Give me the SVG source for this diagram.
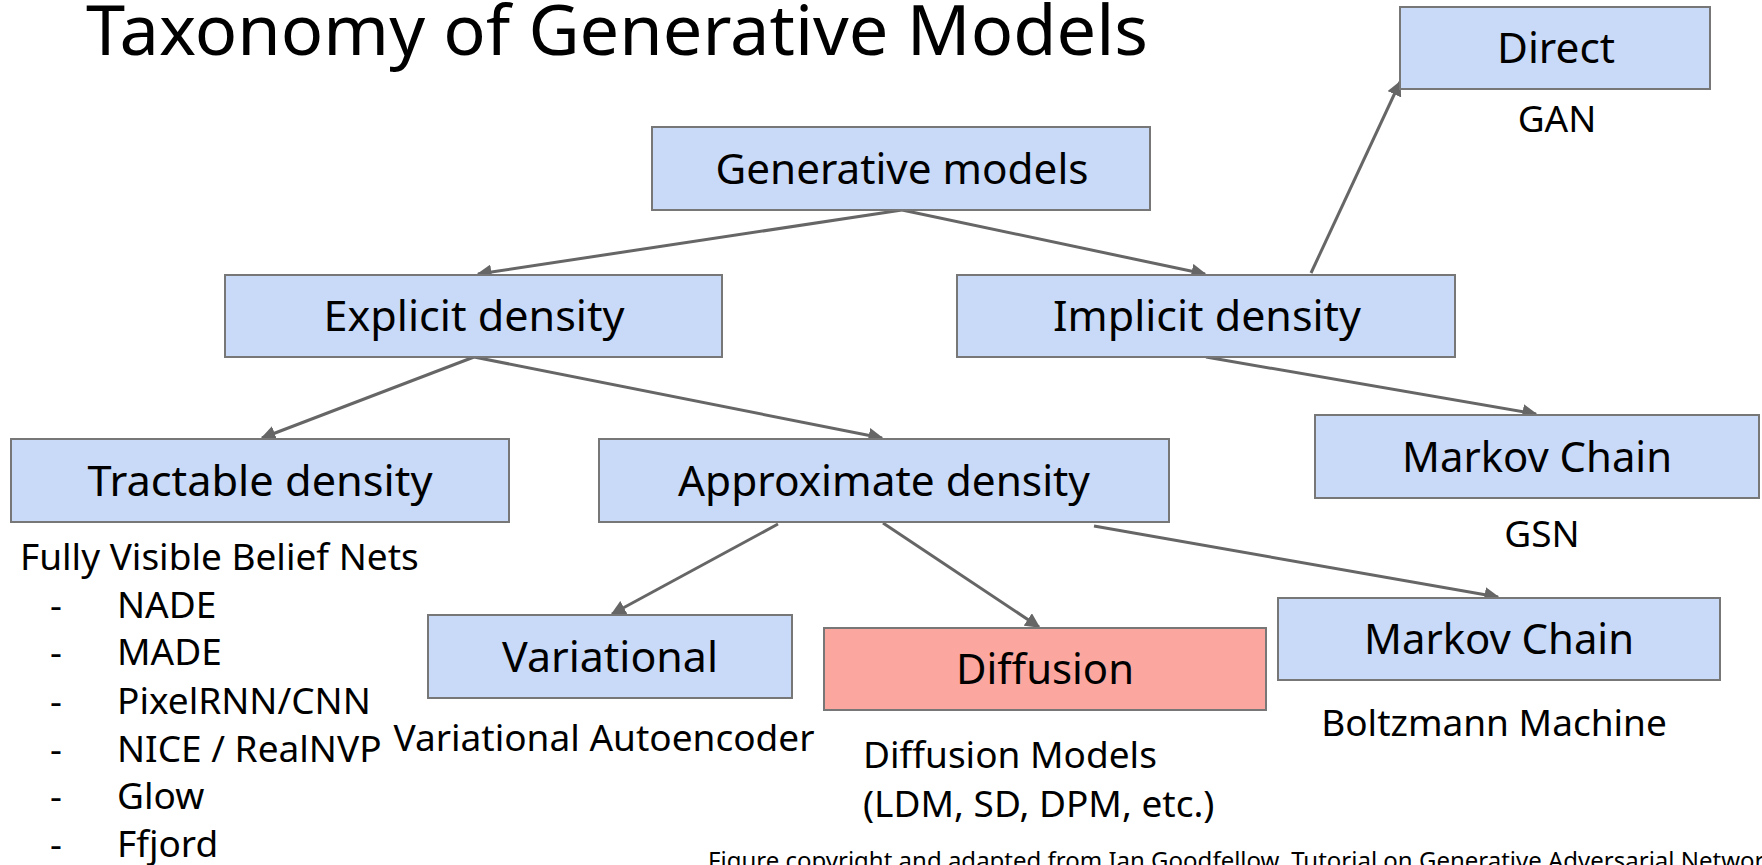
<svg xmlns="http://www.w3.org/2000/svg" width="1762" height="865" viewBox="0 0 1762 865">
<style>
.box{fill:#c9daf8;stroke:#777;stroke-width:2}
.hot{fill:#fba7a0;stroke:#777;stroke-width:2}
.lbl{font-family:"Noto Sans","Open Sans",sans-serif;font-size:42px;fill:#000;text-anchor:middle}
.sub{font-family:"Noto Sans","Open Sans",sans-serif;font-size:37px;fill:#000}
.mid{text-anchor:middle}
.title{font-family:"Noto Sans","Open Sans",sans-serif;font-size:70px;fill:#000}
.foot{font-family:"Noto Sans","Open Sans",sans-serif;font-size:24px;fill:#000}
.edge{stroke:#666;stroke-width:3;fill:none;marker-end:url(#ah)}
</style>
<defs>
<marker id="ah" viewBox="0 0 10 10" refX="9" refY="5" markerWidth="5" markerHeight="5" orient="auto" markerUnits="strokeWidth">
<path d="M0,0 L10,5 L0,10 z" fill="#666"/>
</marker>
</defs>
<rect width="1762" height="865" fill="#fff"/>
<text class="title" x="86" y="55" textLength="1062" lengthAdjust="spacingAndGlyphs">Taxonomy of Generative Models</text>

<g id="connectors">
<line class="edge" x1="902" y1="210" x2="478" y2="274"/>
<line class="edge" x1="902" y1="210" x2="1205" y2="274"/>
<line class="edge" x1="1311" y1="273" x2="1400" y2="82"/>
<line class="edge" x1="474" y1="357" x2="262" y2="438"/>
<line class="edge" x1="474" y1="357" x2="882" y2="438"/>
<line class="edge" x1="1206" y1="357" x2="1536" y2="414"/>
<line class="edge" x1="778" y1="524" x2="612" y2="614"/>
<line class="edge" x1="883" y1="523" x2="1039" y2="627"/>
<line class="edge" x1="1094" y1="526" x2="1498" y2="597"/>
</g>

<g id="n-generative"><rect class="box" x="652" y="127" width="498" height="83"/><text class="lbl" x="902" y="184" textLength="373" lengthAdjust="spacingAndGlyphs">Generative models</text></g>
<g id="n-explicit"><rect class="box" x="225" y="275" width="497" height="82"/><text class="lbl" x="474" y="331" textLength="301" lengthAdjust="spacingAndGlyphs">Explicit density</text></g>
<g id="n-implicit"><rect class="box" x="957" y="275" width="498" height="82"/><text class="lbl" x="1207" y="331" textLength="308" lengthAdjust="spacingAndGlyphs">Implicit density</text></g>
<g id="n-direct"><rect class="box" x="1400" y="7" width="310" height="82"/><text class="lbl" x="1556" y="63" textLength="118" lengthAdjust="spacingAndGlyphs">Direct</text><text class="sub mid" x="1557" y="132">GAN</text></g>
<g id="n-tractable"><rect class="box" x="11" y="439" width="498" height="83"/><text class="lbl" x="260" y="496" textLength="345" lengthAdjust="spacingAndGlyphs">Tractable density</text></g>
<g id="n-approx"><rect class="box" x="599" y="439" width="570" height="83"/><text class="lbl" x="884" y="496" textLength="412" lengthAdjust="spacingAndGlyphs">Approximate density</text></g>
<g id="n-markov1"><rect class="box" x="1315" y="415" width="444" height="83"/><text class="lbl" x="1537" y="472" textLength="270" lengthAdjust="spacingAndGlyphs">Markov Chain</text><text class="sub mid" x="1542" y="547">GSN</text></g>
<g id="n-variational"><rect class="box" x="428" y="615" width="364" height="83"/><text class="lbl" x="610" y="672" textLength="216" lengthAdjust="spacingAndGlyphs">Variational</text><text class="sub mid" x="604" y="751">Variational Autoencoder</text></g>
<g id="n-diffusion"><rect class="hot" x="824" y="628" width="442" height="82"/><text class="lbl" x="1045" y="684" textLength="178" lengthAdjust="spacingAndGlyphs">Diffusion</text><text class="sub" x="863" y="768">Diffusion Models</text><text class="sub" x="863" y="817">(LDM, SD, DPM, etc.)</text></g>
<g id="n-markov2"><rect class="box" x="1278" y="598" width="442" height="82"/><text class="lbl" x="1499" y="654" textLength="270" lengthAdjust="spacingAndGlyphs">Markov Chain</text><text class="sub mid" x="1494" y="736">Boltzmann Machine</text></g>

<g id="tractable-list">
<text class="sub" x="20" y="570">Fully Visible Belief Nets</text>
<text class="sub" x="50" y="618">-</text><text class="sub" x="117" y="618">NADE</text>
<text class="sub" x="50" y="665">-</text><text class="sub" x="117" y="665">MADE</text>
<text class="sub" x="50" y="714">-</text><text class="sub" x="117" y="714">PixelRNN/CNN</text>
<text class="sub" x="50" y="762">-</text><text class="sub" x="117" y="762">NICE / RealNVP</text>
<text class="sub" x="50" y="809">-</text><text class="sub" x="117" y="809">Glow</text>
<text class="sub" x="50" y="857">-</text><text class="sub" x="117" y="857">Ffjord</text>
</g>

<text class="foot" x="708" y="869">Figure copyright and adapted from Ian Goodfellow, Tutorial on Generative Adversarial Networks</text>
</svg>
